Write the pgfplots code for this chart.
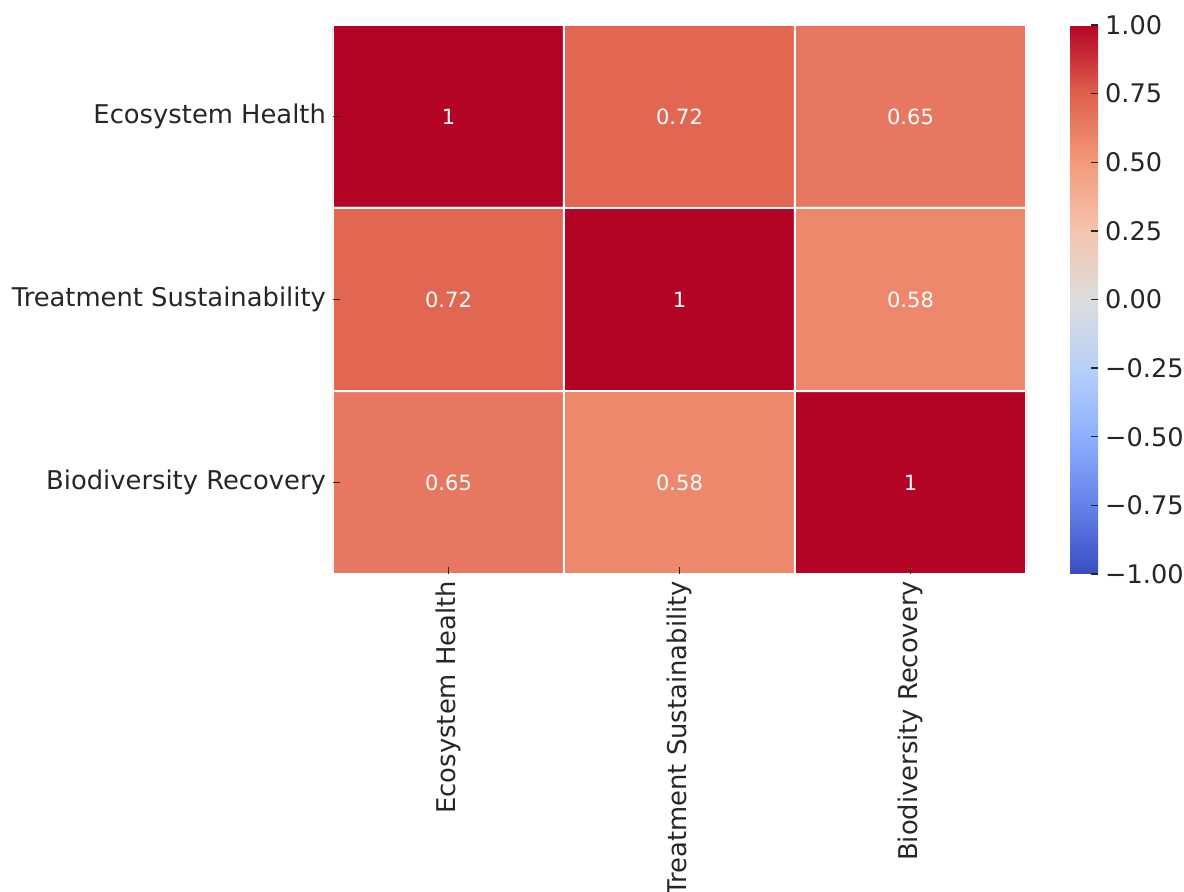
\documentclass[border=0pt]{standalone}
\usepackage{pgfplots}
\pgfplotsset{compat=1.18}
\usepackage{pgfplotstable}
\usepackage{fontspec}
\setmainfont{DejaVu Sans}
\definecolor{txt}{HTML}{262626}

\pgfplotstableread{
x y c label
0 0 1    1
1 0 0.72 0.72
2 0 0.65 0.65
0 1 0.72 0.72
1 1 1    1
2 1 0.58 0.58
0 2 0.65 0.65
1 2 0.58 0.58
2 2 1    1
}\corrdata

\begin{document}
\begin{tikzpicture}
\begin{axis}[
  at={(0,0)}, anchor=south west,
  scale only axis,
  width=346.5pt, height=274.5pt,
  xmin=-0.5, xmax=2.5, ymin=-0.5, ymax=2.5,
  y dir=reverse,
  axis on top,
  axis line style={draw=none},
  xtick={0,1,2}, ytick={0,1,2},
  xticklabels={Ecosystem Health, Treatment Sustainability, Biodiversity Recovery},
  yticklabels={Ecosystem Health, Treatment Sustainability, Biodiversity Recovery},
  xtick pos=bottom, ytick pos=left,
  tick align=inside,
  major tick length=3.5pt,
  tick style={color=txt, line width=0.7pt},
  xticklabel style={rotate=90, anchor=east, font=\fontsize{12.9}{15}\selectfont, text=txt},
  yticklabel style={anchor=east, font=\fontsize{12.9}{15}\selectfont, text=txt},
  colormap={coolwarm}{rgb255=(59,76,192) rgb255=(98,130,234) rgb255=(141,176,254) rgb255=(184,208,249) rgb255=(221,221,221) rgb255=(245,196,173) rgb255=(244,154,123) rgb255=(222,96,77) rgb255=(180,4,38)},
  point meta min=-1, point meta max=1,
  colorbar right,
  colorbar style={
    at={(parent axis.north east)}, anchor=north west, xshift=13.5pt,
    scale only axis, width=14pt, height=274.5pt,
    axis line style={draw=none},
    ytick={-1,-0.75,-0.5,-0.25,0,0.25,0.5,0.75,1},
    yticklabels={−1.00,−0.75,−0.50,−0.25,0.00,0.25,0.50,0.75,1.00},
    ytick pos=right,
    tick align=inside,
    major tick length=3.5pt,
    tick style={color=txt, line width=0.7pt},
    yticklabel style={anchor=west, font=\fontsize{12.8}{15}\selectfont, text=txt},
  },
]
\addplot[matrix plot*, mesh/cols=3, point meta=explicit, draw=white, line width=1pt]
  table[x=x, y=y, meta=c] {\corrdata};
\addplot[draw=none, mark=none, nodes near coords, nodes near coords align={center},
  point meta=explicit symbolic,
  every node near coord/.append style={text=white, font=\fontsize{10.5}{12}\selectfont}]
  table[x=x, y=y, meta=label] {\corrdata};
\end{axis}
\pgfresetboundingbox
\path[use as bounding box] (-166.5pt,-159pt) rectangle (425.5pt,287pt);
\end{tikzpicture}
\end{document}
